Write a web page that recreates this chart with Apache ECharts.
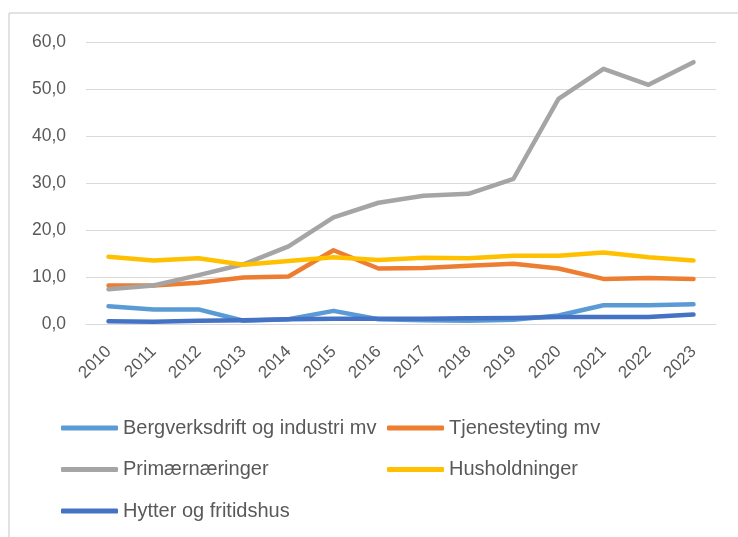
<!DOCTYPE html>
<html>
<head>
<meta charset="utf-8">
<script src="https://cdn.jsdelivr.net/npm/echarts@6/dist/echarts.min.js"></script>
<style>html,body{margin:0;padding:0;background:#fff;}#chart{width:738px;height:537px;}</style>
</head>
<body>
<div id="chart"></div>
<script>
const years = ['2010','2011','2012','2013','2014','2015','2016','2017','2018','2019','2020','2021','2022','2023'];
const seriesNames = ['Bergverksdrift og industri mv','Tjenesteyting mv','Primærnæringer','Husholdninger','Hytter og fritidshus'];
const bergverk = [3.8, 3.1, 3.1, 0.7, 1.0, 2.8, 1.0, 0.8, 0.7, 0.9, 1.8, 4.0, 4.0, 4.2];
const tjeneste = [8.2, 8.2, 8.8, 9.9, 10.1, 15.7, 11.8, 11.9, 12.4, 12.8, 11.8, 9.6, 9.8, 9.6];
const primaer = [7.4, 8.2, 10.4, 12.7, 16.5, 22.7, 25.8, 27.3, 27.7, 30.9, 47.9, 54.3, 50.9, 55.7];
const hushold = [14.3, 13.5, 14.0, 12.6, 13.4, 14.2, 13.6, 14.1, 14.0, 14.5, 14.5, 15.2, 14.2, 13.5];
const hytter = [0.6, 0.5, 0.7, 0.8, 1.0, 1.1, 1.1, 1.1, 1.2, 1.3, 1.5, 1.5, 1.5, 2.0];
const colors = ['#5B9BD5','#ED7D31','#A5A5A5','#FFC000','#4472C4'];
const dataSets = [bergverk, tjeneste, primaer, hushold, hytter];

const chart = echarts.init(document.getElementById('chart'), null, {renderer:'canvas'});
const legendText = {
  fontFamily: "'Liberation Sans', Arial, sans-serif",
  fontSize: 20, color: '#595959', lineHeight: 22
};
const legendBase = {
  orient: 'vertical', icon: 'roundRect', itemWidth: 57, itemHeight: 5,
  itemGap: 19.5, textStyle: legendText, selectedMode: false
};
chart.setOption({
  animation: false,
  color: colors,
  grid: {left: 86, right: 22, top: 42, bottom: 213, containLabel: false},
  xAxis: {
    type: 'category', data: years, boundaryGap: true,
    axisLine: {show: true, lineStyle: {color: '#d9d9d9', width: 1}},
    axisTick: {show: false},
    axisLabel: {
      rotate: 45, margin: 25,
      color: '#595959', fontSize: 17,
      fontFamily: "'Liberation Sans', Arial, sans-serif",
      interval: 0
    }
  },
  yAxis: {
    type: 'value', min: 0, max: 60, interval: 10,
    axisLine: {show: false}, axisTick: {show: false},
    splitLine: {lineStyle: {color: '#d9d9d9', width: 1}},
    axisLabel: {
      margin: 20, color: '#595959', fontSize: 17.5,
      fontFamily: "'Liberation Sans', Arial, sans-serif",
      formatter: v => v.toFixed(1).replace('.', ',')
    }
  },
  legend: [
    Object.assign({}, legendBase, {left: 56, top: 412, data: [seriesNames[0], seriesNames[2], seriesNames[4]]}),
    Object.assign({}, legendBase, {left: 382, top: 412, data: [seriesNames[1], seriesNames[3]]})
  ],
  graphic: [
    {type: 'line', shape: {x1: 9, y1: 13, x2: 738, y2: 13}, style: {stroke: '#d9d9d9', lineWidth: 1.5}, silent: true},
    {type: 'line', shape: {x1: 9, y1: 13, x2: 9, y2: 537}, style: {stroke: '#d9d9d9', lineWidth: 1.5}, silent: true}
  ],
  series: seriesNames.map((n, i) => ({
    name: n, type: 'line', data: dataSets[i], showSymbol: false, symbol: 'none',
    lineStyle: {width: 4.5, color: colors[i], cap: 'round', join: 'round'},
    itemStyle: {color: colors[i]},
    z: 2 + i
  }))
});
</script>
</body>
</html>
